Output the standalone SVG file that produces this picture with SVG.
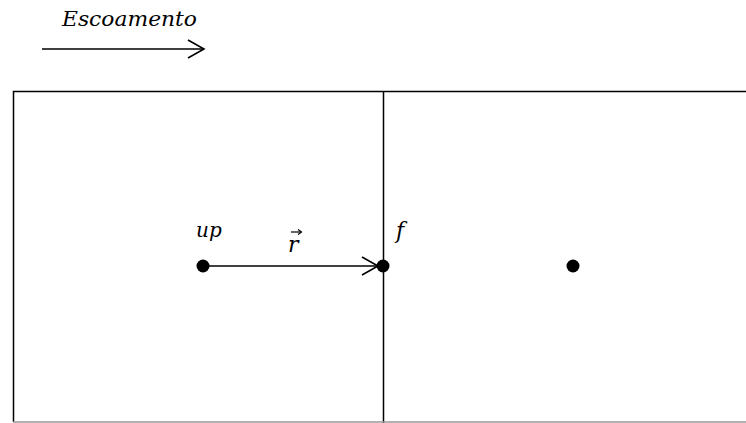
<svg xmlns="http://www.w3.org/2000/svg" width="746" height="423" viewBox="0 0 746 423">
<style>
.ln{stroke:#000;stroke-width:1.5;fill:none}
.lbl{font-family:"DejaVu Serif",serif;font-style:italic;fill:#000}
.dot{fill:#000}
</style>
<defs>
<marker id="open" markerWidth="22" markerHeight="22" refX="19" refY="11" orient="auto" markerUnits="userSpaceOnUse">
<path d="M3,2 L19,11 L3,20" fill="none" stroke="#000" stroke-width="1.6"/>
</marker>
</defs>
<rect width="746" height="423" fill="#fff"/>
<g id="flow">
<text class="lbl" x="62" y="26" font-size="20" textLength="135" lengthAdjust="spacingAndGlyphs">Escoamento</text>
<line class="ln" x1="42" y1="49" x2="204" y2="49" marker-end="url(#open)"/>
</g>
<g id="cells">
<path class="ln" d="M13.5,422 L13.5,91.5 L746,91.5"/>
<line class="ln" x1="383.5" y1="91" x2="383.5" y2="423"/>
<line x1="13" y1="422" x2="746" y2="422" stroke="#999" stroke-width="1.5"/>
</g>
<g id="connectors">
<line class="ln" x1="203" y1="266" x2="378" y2="266" marker-end="url(#open)"/>
</g>
<g id="node-up">
<circle class="dot" cx="203" cy="266" r="6.5"/>
<text class="lbl" x="196" y="237" font-size="20">up</text>
</g>
<g id="node-f">
<circle class="dot" cx="383" cy="266" r="6.5"/>
<text class="lbl" x="396" y="238" font-size="22">f</text>
</g>
<g id="node-3">
<circle class="dot" cx="573" cy="266" r="6.5"/>
</g>
<g id="label-r">
<text class="lbl" x="288" y="252" font-size="22">r</text>
<line x1="291" y1="232" x2="301" y2="232" stroke="#000" stroke-width="1.2"/>
<path d="M298,229.5 L301.5,232 L298,234.5" fill="none" stroke="#000" stroke-width="1.2"/>
</g>
</svg>
